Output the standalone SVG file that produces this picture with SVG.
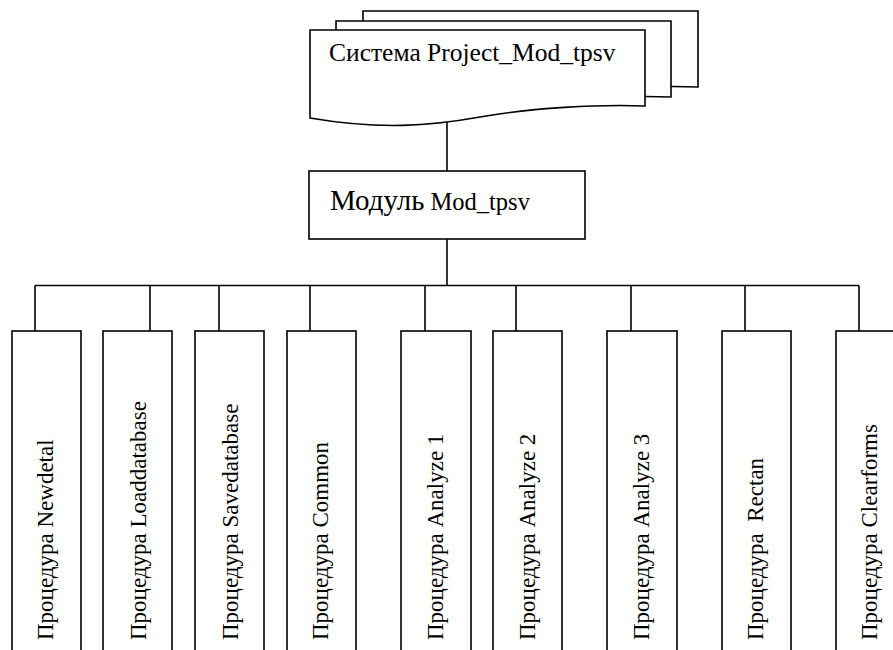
<svg xmlns="http://www.w3.org/2000/svg" width="893" height="650" viewBox="0 0 893 650">
<style>
.s{fill:#fff;stroke:#000;stroke-width:1.6}
.c{fill:none;stroke:#000;stroke-width:1.6}
.t{font-family:"Liberation Serif","Times New Roman",serif;fill:#000}
.v{font-family:"Liberation Serif","Times New Roman",serif;font-size:23px;fill:#000;white-space:pre}
</style>
<defs>
<path id="doc" d="M310,30 H645 V106 C600,104 530,108 480,117 C430,126 380,130 310,118 Z"/>
</defs>
<rect width="893" height="650" fill="#fff"/>
<g id="connectors">
<line class="c" x1="447" y1="122" x2="447" y2="171"/>
<line class="c" x1="447" y1="239" x2="447" y2="285.5"/>
<line class="c" x1="35" y1="285.5" x2="859" y2="285.5"/>
<line class="c" x1="35" y1="285.5" x2="35" y2="331"/>
<line class="c" x1="150" y1="285.5" x2="150" y2="331"/>
<line class="c" x1="219" y1="285.5" x2="219" y2="331"/>
<line class="c" x1="310" y1="285.5" x2="310" y2="331"/>
<line class="c" x1="425" y1="285.5" x2="425" y2="331"/>
<line class="c" x1="516" y1="285.5" x2="516" y2="331"/>
<line class="c" x1="631" y1="285.5" x2="631" y2="331"/>
<line class="c" x1="745" y1="285.5" x2="745" y2="331"/>
<line class="c" x1="859" y1="285.5" x2="859" y2="331"/>
</g>
<g id="system">
<use href="#doc" class="s" transform="translate(53,-19)"/>
<use href="#doc" class="s" transform="translate(26,-9)"/>
<use href="#doc" class="s"/>
<text class="t" x="329" y="61" font-size="25.5">Система Project_Mod_tpsv</text>
</g>
<g id="module">
<rect class="s" x="309" y="171" width="276" height="68"/>
<text class="t" x="330" y="210"><tspan font-size="29">Модуль</tspan><tspan font-size="24.5"> Mod_tpsv</tspan></text>
</g>
<g id="p1"><rect class="s" x="12" y="331" width="69" height="330"/><text class="v" transform="translate(53,640) rotate(-90)">Процедура Newdetal</text></g>
<g id="p2"><rect class="s" x="103" y="331" width="69" height="330"/><text class="v" transform="translate(146,640) rotate(-90)">Процедура Loaddatabase</text></g>
<g id="p3"><rect class="s" x="195" y="331" width="69" height="330"/><text class="v" transform="translate(238,640) rotate(-90)">Процедура Savedatabase</text></g>
<g id="p4"><rect class="s" x="287" y="331" width="69" height="330"/><text class="v" transform="translate(328,640) rotate(-90)">Процедура Common</text></g>
<g id="p5"><rect class="s" x="401" y="331" width="70" height="330"/><text class="v" transform="translate(443,640) rotate(-90)">Процедура Analyze 1</text></g>
<g id="p6"><rect class="s" x="493" y="331" width="69" height="330"/><text class="v" transform="translate(535,640) rotate(-90)">Процедура Analyze 2</text></g>
<g id="p7"><rect class="s" x="607" y="331" width="70" height="330"/><text class="v" transform="translate(649,640) rotate(-90)">Процедура Analyze 3</text></g>
<g id="p8"><rect class="s" x="722" y="331" width="69" height="330"/><text class="v" transform="translate(763,640) rotate(-90)">Процедура  Rectan</text></g>
<g id="p9"><rect class="s" x="836" y="331" width="69" height="330"/><text class="v" transform="translate(877,640) rotate(-90)">Процедура Clearforms</text></g>
</svg>
